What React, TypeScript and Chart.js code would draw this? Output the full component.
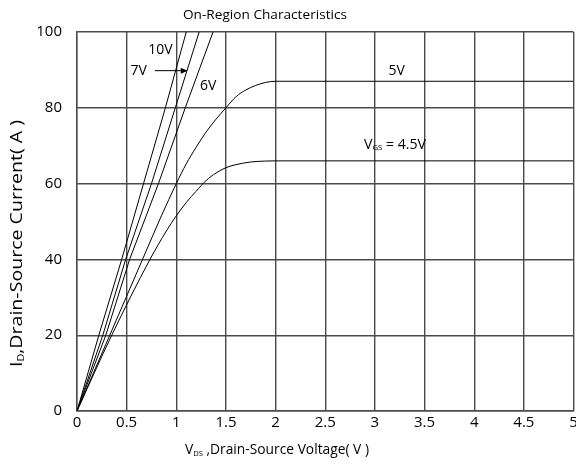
import { useEffect, useRef } from 'react';
import { Chart, registerables } from 'chart.js';

Chart.register(...registerables);

const FONT = '"Open Sans", "Noto Sans", sans-serif';

// X axis: V_DS (V), Y axis: I_D (A)
const xTickStep = 0.5;
const yTickStep = 20;

const seriesNames = ['10V', '7V', '6V', '5V', '4.5V'];

const vds10 = [0, 0.22, 0.45, 0.67, 0.89, 1.1];
const id10 = [0, 20, 40, 60, 80, 100];

const vds7 = [0, 0.26, 0.49, 0.75, 0.99, 1.23];
const id7 = [0, 20, 40, 60, 80, 100];

const vds6 = [0, 0.29, 0.53, 0.82, 1.09, 1.37];
const id6 = [0, 20, 40, 60, 80, 100];

const vds5 = [0, 0.33, 0.66, 0.85, 1.0, 1.1, 1.2, 1.3, 1.4, 1.5, 1.6, 1.7, 1.8, 1.9, 2.0, 5.0];
const id5 = [0, 20, 40, 51.5, 60, 65.2, 69.6, 73.6, 77, 80, 82.9, 84.7, 85.9, 86.7, 87, 87];

const vds45 = [0, 0.35, 0.735, 0.9, 1.0, 1.1, 1.2, 1.3, 1.4, 1.5, 1.6, 1.75, 1.9, 2.0, 5.0];
const id45 = [0, 20, 40, 47.5, 51.5, 55, 58, 60.8, 62.8, 64.2, 65.0, 65.7, 65.95, 66, 66];

const allX = [vds10, vds7, vds6, vds5, vds45];
const allY = [id10, id7, id6, id5, id45];
const curved = [false, false, false, true, true];

type Part = { t: string; sub?: boolean };

function drawRich(
  ctx: CanvasRenderingContext2D,
  parts: Part[],
  x: number,
  y: number,
  size: number,
  align: 'center' | 'left',
  fitWidth?: number
) {
  const widths = parts.map((p) => {
    ctx.font = `${p.sub ? size * 0.55 : size}px ${FONT}`;
    return ctx.measureText(p.t).width;
  });
  const total = widths.reduce((a, b) => a + b, 0);
  const sx = fitWidth ? fitWidth / total : 1;
  ctx.save();
  ctx.translate(x, y);
  ctx.scale(sx, 1);
  let cx = align === 'center' ? -total / 2 : 0;
  ctx.textBaseline = 'middle';
  ctx.textAlign = 'left';
  parts.forEach((p, i) => {
    ctx.font = `${p.sub ? size * 0.55 : size}px ${FONT}`;
    ctx.fillText(p.t, cx, p.sub ? size * 0.25 : 0);
    cx += widths[i];
  });
  ctx.restore();
}

const overlay = {
  id: 'overlay',
  afterDraw(chart: any) {
    const { ctx } = chart;
    const xs = chart.scales.x;
    const ys = chart.scales.y;
    const px = (v: number) => xs.getPixelForValue(v);
    const py = (v: number) => ys.getPixelForValue(v);
    ctx.save();
    ctx.fillStyle = '#000';
    ctx.strokeStyle = '#000';

    // Title
    drawRich(ctx, [{ t: 'On-Region Characteristics' }], 265, 15, 13, 'center', 164);
    // X axis title
    drawRich(ctx, [{ t: 'V' }, { t: 'DS', sub: true }, { t: ' ,Drain-Source Voltage( V )' }], 277, 450, 14.5, 'center', 184);
    // Y axis title
    ctx.save();
    ctx.translate(17.5, 243.5);
    ctx.rotate(-Math.PI / 2);
    drawRich(ctx, [{ t: 'I' }, { t: 'D', sub: true }, { t: ',Drain-Source Current( A )' }], 0, 0, 17, 'center', 247);
    ctx.restore();

    // Curve labels
    drawRich(ctx, [{ t: seriesNames[0] }], px(0.84), py(95.3), 14, 'center');
    drawRich(ctx, [{ t: seriesNames[1] }], px(0.62), py(89.6), 14, 'center');
    drawRich(ctx, [{ t: seriesNames[2] }], px(1.32), py(85.8), 14, 'center');
    drawRich(ctx, [{ t: seriesNames[3] }], px(3.22), py(89.6), 14, 'center');
    drawRich(ctx, [{ t: 'V' }, { t: 'GS', sub: true }, { t: ' = ' + seriesNames[4] }], px(2.89), py(70.3), 14, 'left', 62);

    // Arrow to 7V curve
    const ax0 = px(0.785);
    const ax1 = px(1.115);
    const ay = py(89.8);
    ctx.lineWidth = 1;
    ctx.beginPath();
    ctx.moveTo(ax0, ay);
    ctx.lineTo(ax1 - 5, ay);
    ctx.stroke();
    ctx.beginPath();
    ctx.moveTo(ax1, ay);
    ctx.lineTo(ax1 - 7, ay - 3);
    ctx.lineTo(ax1 - 7, ay + 3);
    ctx.closePath();
    ctx.fill();
    ctx.restore();
  },
};

export default function App() {
  const ref = useRef<HTMLCanvasElement>(null);
  useEffect(() => {
    if (!ref.current) return;
    const gridColor = '#4a4a4a';
    const chart = new Chart(ref.current, {
      type: 'line',
      data: {
        datasets: seriesNames.map((name, i) => ({
          label: name,
          data: allX[i].map((x, j) => ({ x, y: allY[i][j] })),
          borderColor: '#000',
          borderWidth: 1,
          pointRadius: 0,
          fill: false,
          tension: curved[i] ? 0.4 : 0,
          cubicInterpolationMode: curved[i] ? 'monotone' : 'default',
        })),
      },
      options: {
        animation: false,
        responsive: false,
        devicePixelRatio: 1,
        layout: { padding: { top: 32, right: 2.5, left: 0, bottom: 0 } },
        plugins: { legend: { display: false }, tooltip: { enabled: false }, title: { display: false } },
        scales: {
          x: {
            type: 'linear',
            min: 0,
            max: 5,
            ticks: {
              stepSize: xTickStep,
              color: '#000',
              font: { family: FONT, size: 15 },
              padding: 3,
              maxRotation: 0,
              callback: (v: any) => String(Math.round(Number(v) * 10) / 10),
            },
            grid: { color: gridColor, lineWidth: 1.4, drawTicks: false },
            border: { color: gridColor, width: 1.4 },
            afterFit: (s: any) => {
              s.height = 54;
              s.paddingRight = 0;
              s.paddingLeft = 0;
            },
          },
          y: {
            type: 'linear',
            min: 0,
            max: 100,
            ticks: { stepSize: yTickStep, color: '#000', font: { family: FONT, size: 15 }, padding: 15 },
            grid: { color: gridColor, lineWidth: 1.4, drawTicks: false },
            border: { color: gridColor, width: 1.4 },
            afterFit: (s: any) => {
              s.width = 77;
              s.paddingTop = 0;
              s.paddingBottom = 0;
            },
          },
        },
      },
      plugins: [overlay],
    } as any);
    return () => chart.destroy();
  }, []);
  return (
    <div style={{ position: 'absolute', left: 0, top: 0, width: 576, height: 465, overflow: 'hidden' }}>
      <canvas ref={ref} width={576} height={465} />
    </div>
  );
}
